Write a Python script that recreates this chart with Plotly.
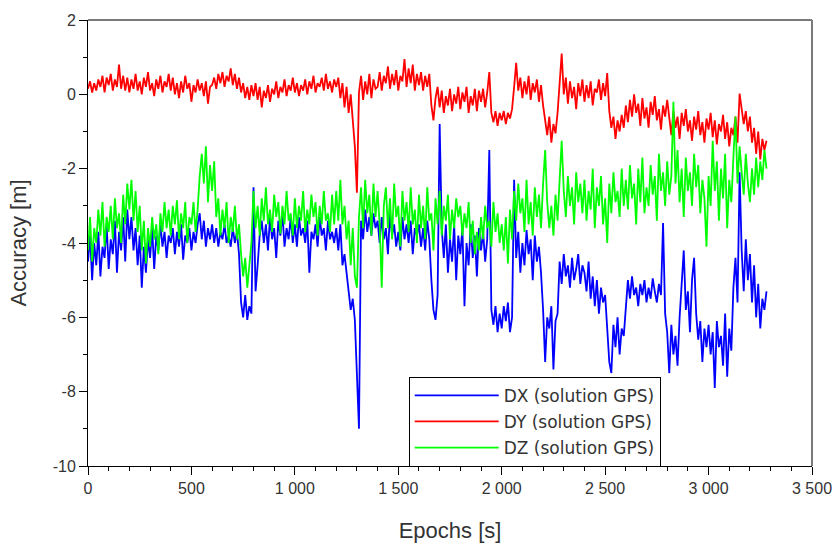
import plotly.graph_objects as go

# Position error components of the GPS solution, one sample every 10 s
step_s = 10

dx = [
    -4.5, -3.8, -5.0, -4.0, -4.6, -3.7, -4.9, -4.1, -4.4, -3.5, -4.7, -3.9, -4.3, -3.4, -4.8, -3.7, -4.2, -3.3, -4.5, -3.1,
    -3.9, -3.3, -4.2, -3.6, -4.6, -3.8, -5.2, -4.1, -4.8, -3.9, -4.4, -3.6, -4.7, -3.8, -4.2, -3.5, -4.1, -3.7, -4.4, -3.8,
    -4.0, -3.6, -4.3, -3.7, -4.1, -3.5, -4.45, -3.8, -4.0, -3.6, -4.2, -3.7, -4.0, -3.5, -3.2, -3.9, -3.4, -4.1, -3.6, -3.9,
    -3.5, -4.0, -3.6, -4.1, -3.7, -3.9, -3.5, -4.0, -3.8, -4.1, -3.6, -4.0, -3.7, -4.3, -5.6, -6.0, -5.4, -6.07, -5.7, -5.9,
    -2.5, -5.3, -4.6, -3.8, -3.4, -4.0, -3.5, -4.2, -3.3, -3.9, -3.6, -4.4, -3.4, -3.8, -3.2, -4.1, -3.6, -3.9, -3.3, -4.0,
    -3.5, -4.1, -3.3, -3.8, -3.6, -4.0, -3.4, -4.8, -3.7, -3.9, -3.5, -4.1, -3.3, -3.8, -3.6, -4.2, -3.4, -3.9, -3.7, -4.0,
    -3.6, -4.2, -3.5, -4.6, -4.3, -4.9, -5.3, -5.8, -5.5, -6.07, -7.5, -9.0, -3.4, -3.9, -3.1, -3.7, -3.3, -3.8, -3.2, -3.6,
    -3.4, -4.0, -3.3, -3.9, -3.6, -4.3, -3.2, -3.8, -3.5, -4.1, -3.7, -4.2, -3.3, -3.9, -3.5, -4.0, -3.4, -4.3, -3.6, -3.8,
    -3.5, -4.1, -3.6, -4.2, -3.4, -3.9, -5.0, -5.8, -6.07, -5.4, -0.8, -3.6, -4.4, -3.5, -4.8, -3.9, -4.5, -3.5, -5.0, -3.8,
    -4.3, -3.6, -5.7, -4.0, -4.6, -3.5, -4.4, -3.8, -4.9, -3.6, -4.2, -3.7, -4.5, -3.9, -1.5, -5.8, -6.2, -5.7, -6.4, -5.9,
    -6.3, -5.7, -6.1, -5.6, -6.4, -6.0, -2.3, -4.4, -3.7, -4.8, -4.0, -4.6, -3.65, -4.3, -3.9, -5.0, -3.8, -4.5, -4.1, -4.8,
    -5.8, -7.2, -6.0, -6.3, -5.7, -7.4, -6.1, -5.9, -4.5, -5.1, -4.3, -4.9, -4.6, -5.2, -4.4, -5.0, -4.7, -4.3, -5.1, -4.6,
    -4.8, -5.3, -4.5, -5.5, -4.9, -5.7, -5.0, -5.9, -5.2, -5.6, -5.4, -6.4, -7.2, -7.5, -6.2, -6.8, -6.0, -7.0, -6.3, -6.5,
    -5.6, -5.0, -5.5, -4.9, -5.4, -5.2, -5.7, -5.1, -5.4, -5.0, -5.6, -5.2, -5.5, -4.95, -5.3, -5.6, -5.1, -5.4, -3.46, -5.9,
    -6.4, -7.5, -6.2, -7.0, -6.5, -7.3, -6.0, -5.1, -4.2, -5.8, -5.3, -6.4, -5.0, -4.4, -5.9, -6.6, -6.1, -7.2, -6.3, -6.8,
    -6.2, -7.0, -6.4, -7.9, -6.1, -6.8, -6.5, -7.3, -5.9, -7.6, -6.3, -6.9, -5.2, -4.4, -5.6, -2.1, -4.2, -5.3, -3.9, -5.0,
    -4.3, -5.6, -4.6, -6.0, -5.1, -6.3, -5.5, -5.8, -5.3,
]

dy = [
    0.15, 0.35, 0.05, 0.3, 0.1, 0.4, 0.2, 0.5, 0.05, 0.45, 0.25, 0.55, 0.1, 0.4, 0.2, 0.8, 0.15, 0.5, 0.1, 0.45,
    0.05, 0.4, 0.15, 0.55, 0.1, 0.35, 0.0, 0.45, 0.2, 0.6, 0.1, 0.3, -0.05, 0.4, 0.15, 0.5, 0.05, 0.35, 0.2, 0.55,
    0.1, 0.45, 0.0, 0.3, -0.1, 0.35, 0.05, 0.5, 0.15, 0.3, -0.2, 0.25, 0.05, 0.4, 0.1, 0.3, -0.05, 0.35, -0.25, 0.2,
    0.25, 0.45, 0.15, 0.55, 0.3, 0.6, 0.2, 0.5, 0.35, 0.7, 0.25, 0.55, 0.15, 0.45, 0.05, 0.3, -0.1, 0.2, -0.15, 0.25,
    -0.05, 0.3, -0.15, 0.2, -0.35, 0.1, -0.1, 0.25, -0.2, 0.15, 0.0, 0.35, -0.1, 0.2, 0.05, 0.4, -0.05, 0.25, 0.1, 0.45,
    0.05, 0.3, -0.05, 0.25, 0.1, 0.4, 0.0, 0.35, 0.15, 0.5, 0.05, 0.3, 0.2, 0.45, 0.1, 0.55, 0.15, 0.35, 0.05, 0.4,
    0.2, 0.45, -0.1, 0.3, -0.35, 0.2, -0.5, 0.0, -0.7, -1.4, -2.65, 0.05, 0.5, -0.15, 0.35, 0.0, 0.55, -0.1, 0.4, 0.15,
    0.2, 0.6, 0.1, 0.5, 0.3, 0.75, 0.15, 0.55, 0.25, 0.65, 0.1, 0.5, 0.35, 0.95, 0.2, 0.7, 0.3, 0.8, 0.1, 0.55,
    0.25, 0.6, 0.1, 0.5, 0.2, 0.55, -0.3, -0.7, -0.1, 0.2, -0.35, 0.1, -0.5, -0.05, -0.3, 0.15, -0.45, 0.0, -0.25, 0.2,
    -0.4, 0.05, -0.2, 0.2, -0.5, -0.05, -0.3, 0.15, -0.45, 0.1, -0.2, 0.15, -0.35, 0.05, 0.6, -0.5, -0.75, -0.45, -0.85, -0.5,
    -0.7, -0.45, -0.8, -0.5, -0.65, -0.4, 0.2, 0.85, 0.1, 0.45, -0.1, 0.35, 0.0, 0.5, -0.15, 0.3, 0.05, 0.4, -0.2, 0.25,
    -0.3, -0.75, -1.1, -0.6, -1.3, -0.8, -1.05, -0.5, 0.3, 1.1, 0.0, 0.45, -0.25, 0.35, -0.1, 0.2, -0.4, 0.3, -0.05, 0.4,
    -0.2, 0.25, -0.1, 0.35, -0.3, 0.15, 0.05, 0.4, -0.15, 0.3, -0.05, 0.57, -0.45, -0.9, -0.6, -1.2, -0.7, -1.0, -0.55, -0.9,
    -0.3, -0.75, -0.15, -0.6, 0.0, -0.5, -0.25, -0.85, -0.1, -0.65, -0.35, -0.9, -0.2, -0.55, -0.05, -0.7, -0.4, -0.95, -0.3, -0.6,
    -0.15, -0.6, -1.1, -0.45, -0.9, -0.6, -1.2, -0.5, -0.85, -0.4, -1.0, -0.7, -1.25, -0.6, -0.95, -0.45, -1.1, -0.75, -1.3, -0.65,
    -0.95, -0.5, -1.15, -0.7, -1.35, -0.8, -1.0, -0.55, -1.2, -0.75, -1.4, -0.9, -1.1, -0.6, -1.3, 0.02, -0.35, -0.8, -0.45, -1.0,
    -0.6, -1.3, -0.9, -1.6, -1.0, -1.75, -1.2, -1.5, -1.25,
]

dz = [
    -4.2, -3.3, -4.5, -3.6, -4.0, -3.1, -3.8, -2.9, -4.1, -3.3, -3.7, -3.0, -3.9, -2.8, -3.6, -3.2, -4.0, -2.7, -3.5, -2.4,
    -3.1, -2.3, -3.4, -2.6, -3.7, -3.0, -4.2, -3.4, -4.55, -3.6, -4.1, -3.3, -3.9, -3.5, -4.3, -3.2, -3.7, -2.9, -3.6, -3.1,
    -3.8, -3.0, -3.5, -2.85, -3.9, -3.2, -3.6, -2.9, -4.0, -3.3, -3.5, -2.9, -3.7, -3.1, -2.2, -1.6, -2.4, -1.4, -2.9, -1.9,
    -2.6, -1.8, -3.3, -2.8, -3.8, -3.1, -3.6, -2.9, -4.0, -3.3, -3.7, -3.0, -3.9, -3.5, -4.3, -4.9, -4.4, -5.2, -4.6, -4.0,
    -2.6, -3.6, -3.0, -3.8, -2.8, -3.4, -2.5, -3.5, -3.1, -3.7, -2.7, -3.3, -2.9, -3.75, -3.0, -3.5, -2.6, -3.4, -3.2, -3.8,
    -2.8, -3.6, -3.0, -3.4, -2.6, -3.7, -3.1, -3.5, -2.7, -3.3, -2.9, -3.8, -3.0, -3.5, -2.6, -3.4, -3.2, -3.7, -2.7, -3.5,
    -2.6, -3.4, -2.3, -3.5, -3.0, -3.9, -3.4, -4.6, -3.6, -4.9, -5.2, -3.3, -2.5, -3.6, -2.3, -3.2, -2.7, -3.8, -2.4, -3.3,
    -2.6, -3.5, -5.2, -3.0, -2.5, -3.6, -2.8, -3.9, -2.4, -3.3, -3.0, -4.1, -2.6, -3.4, -2.9, -3.7, -2.5, -3.5, -3.1, -4.0,
    -2.7, -3.6, -3.0, -3.9, -2.5, -3.4, -3.2, -4.2, -2.8, -3.5, -2.6, -3.8, -3.0, -3.4, -2.7, -3.9, -3.1, -3.6, -2.8, -3.3,
    -3.0, -3.8, -3.2, -3.6, -2.9, -4.0, -3.4, -4.3, -3.7, -4.2, -3.3, -3.9, -3.0, -3.6, -3.4, -4.1, -2.9, -3.7, -3.2, -4.0,
    -3.5, -4.2, -3.3, -4.55, -3.1, -3.9, -2.6, -3.4, -2.4, -3.2, -2.8, -3.7, -2.3, -3.5, -2.9, -3.8, -2.5, -3.3, -2.7, -3.6,
    -2.4, -1.5, -2.9, -3.6, -3.0, -3.8, -2.7, -3.4, -2.3, -1.25, -2.6, -3.3, -2.2, -3.0, -2.5, -3.5, -2.1, -2.9, -2.4, -3.2,
    -2.3, -3.4, -2.6, -3.1, -2.0, -3.6, -2.5, -3.0, -2.2, -3.5, -2.8, -4.0, -2.4, -3.2, -2.1, -2.9, -2.6, -3.3, -2.0, -3.0,
    -2.3, -3.1, -1.9, -2.8, -2.4, -3.5, -2.0, -2.9, -1.7, -3.2, -2.5, -3.0, -1.9, -2.7, -2.2, -3.4, -1.6, -2.6, -2.1, -3.0,
    -1.8, -2.7, -2.2, -0.2, -2.4, -1.5, -2.9, -2.0, -3.3, -1.7, -2.6, -2.1, -3.0, -1.6, -2.5, -1.9, -3.2, -2.3, -2.8, -4.1,
    -2.2, -3.0, -1.25, -2.6, -1.8, -3.4, -2.0, -2.8, -1.6, -3.6, -2.3, -2.9, -1.7, -0.6, -2.4, -1.4, -2.1, -2.7, -1.6, -2.4,
    -2.9, -2.0, -2.7, -1.7, -2.5, -1.8, -2.3, -1.5, -2.0,
]

epochs = [i * step_s for i in range(len(dx))]

x_tick_vals = [0, 500, 1000, 1500, 2000, 2500, 3000, 3500]
x_tick_text = ["0", "500", "1 000", "1 500", "2 000", "2 500", "3 000", "3 500"]
y_tick_vals = [-10, -8, -6, -4, -2, 0, 2]
y_tick_text = ["-10", "-8", "-6", "-4", "-2", "0", "2"]

series = [
    ("DX (solution GPS)", dx, "#0000ff"),
    ("DY (solution GPS)", dy, "#ff0000"),
    ("DZ (solution GPS)", dz, "#00ff00"),
]

fig = go.Figure()
for i, (name, values, color) in enumerate(series):
    fig.add_trace(go.Scatter(
        x=epochs, y=values, name=name, mode="lines",
        line=dict(color=color, width=1.8),
        legendgroup=f"g{i}",
    ))

tick_font = dict(family="Liberation Sans, Arial, sans-serif", size=16, color="#333333")
title_font = dict(family="Liberation Sans, Arial, sans-serif", size=22, color="#333333")

fig.update_layout(
    width=836, height=544,
    margin=dict(l=88, r=24, t=20, b=78),
    paper_bgcolor="white", plot_bgcolor="white",
    showlegend=True,
    legend=dict(
        x=0.443, y=0.2, xanchor="left", yanchor="top",
        bgcolor="white", bordercolor="black", borderwidth=1,
        font=dict(family="DejaVu Sans, sans-serif", size=17, color="#333333"),
        itemwidth=84, tracegroupgap=1,
    ),
    shapes=[
        dict(type="line", xref="paper", yref="paper", x0=0, y0=1, x1=1, y1=1,
             line=dict(color="#7a7a7a", width=2)),
        dict(type="line", xref="paper", yref="paper", x0=1, y0=0, x1=1, y1=1,
             line=dict(color="#7a7a7a", width=2)),
    ],
)

fig.update_xaxes(
    range=[0, 3500], showgrid=False, zeroline=False, automargin=False,
    showline=True, linecolor="black", linewidth=1,
    ticks="outside", ticklen=8, tickcolor="black",
    tickmode="array", tickvals=x_tick_vals, ticktext=x_tick_text,
    minor=dict(tickmode="linear", tick0=0, dtick=100, ticks="outside",
               ticklen=4, tickcolor="black", showgrid=False),
    tickfont=tick_font,
    title=dict(text="Epochs [s]", font=title_font, standoff=26),
)
fig.update_yaxes(
    range=[-10, 2], showgrid=False, zeroline=False, automargin=False,
    showline=True, linecolor="black", linewidth=1,
    ticks="outside", ticklen=8, tickcolor="black",
    tickmode="array", tickvals=y_tick_vals, ticktext=y_tick_text,
    minor=dict(tickmode="linear", tick0=0, dtick=1, ticks="outside",
               ticklen=4, tickcolor="black", showgrid=False),
    tickfont=tick_font,
    title=dict(text="Accuracy [m]", font=title_font, standoff=19),
)

fig.write_html("out.html")
